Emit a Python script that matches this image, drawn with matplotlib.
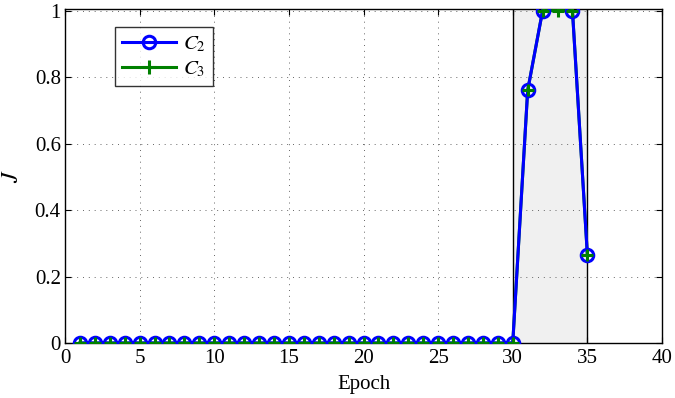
import matplotlib
matplotlib.use("Agg")
import matplotlib.pyplot as plt
import numpy as np

plt.rcParams['font.family'] = ['Liberation Serif', 'DejaVu Serif']
plt.rcParams['mathtext.fontset'] = 'stix'

epochs = list(range(1, 36))
c2 = [0.0] * 30 + [0.76, 1.0, np.nan, 1.0, 0.265]
c3 = [0.0] * 30 + [0.76, 1.0, 1.0, 1.0, 0.265]
shade = (30, 35)

fig = plt.figure(figsize=(6.75, 3.98), dpi=100)
ax = fig.add_axes([65/675, 1 - 343/398, (662-65)/675, (343-9)/398])
ax.axvspan(shade[0], shade[1], facecolor='#f0f0f0', edgecolor='none', zorder=0)
ax.axvline(shade[0], color='black', lw=1.0, zorder=2)
ax.axvline(shade[1], color='black', lw=1.0, zorder=2)
ax.plot(epochs, c3, color='#008000', lw=2.2, zorder=3)
ax.plot(epochs, c2, color='#0000ff', lw=2.2, marker='o', ms=9, mfc='none', mew=2.2, zorder=4)
ax.plot(epochs, c3, color='#008000', lw=0, marker='+', ms=8, mew=2.2, zorder=5)
ax.set_xlim(0, 40)
ax.set_ylim(0, 1.005)
ax.set_xticks(range(0, 41, 5))
ax.set_yticks([0, 0.2, 0.4, 0.6, 0.8, 1])
ax.set_yticklabels(['0', '0.2', '0.4', '0.6', '0.8', '1'])
ax.grid(True, linestyle=(0, (1, 5)), color='#666666', linewidth=0.7)
ax.tick_params(direction='in', labelsize=15, length=4, top=True, right=True)
ax.tick_params(axis='x', pad=4)
ax.tick_params(axis='y', pad=3)
for s in ax.spines.values():
    s.set_linewidth(1.0)
ax.set_xlabel('Epoch', fontsize=15, labelpad=5)
ax.set_ylabel('$J$', fontsize=17)
ax.yaxis.set_label_coords(-0.07, 0.5)
h2 = plt.Line2D([], [], color='#0000ff', lw=2.2, marker='o', ms=9, mfc='none', mew=2.2)
h3 = plt.Line2D([], [], color='#008000', lw=2.2, marker='+', ms=10, mew=2.2)
leg = ax.legend([h2, h3], ['$C_2$', '$C_3$'], loc='upper left',
                bbox_to_anchor=((115-65)/597, 1 - (27-9)/334), borderaxespad=0,
                fontsize=15, frameon=True, fancybox=False, edgecolor='black',
                handlelength=2.6, borderpad=0.35, labelspacing=0.25, handletextpad=0.3)
leg.get_frame().set_linewidth(1.0)
leg.set_zorder(10)
fig.savefig('out.png', dpi=100)
